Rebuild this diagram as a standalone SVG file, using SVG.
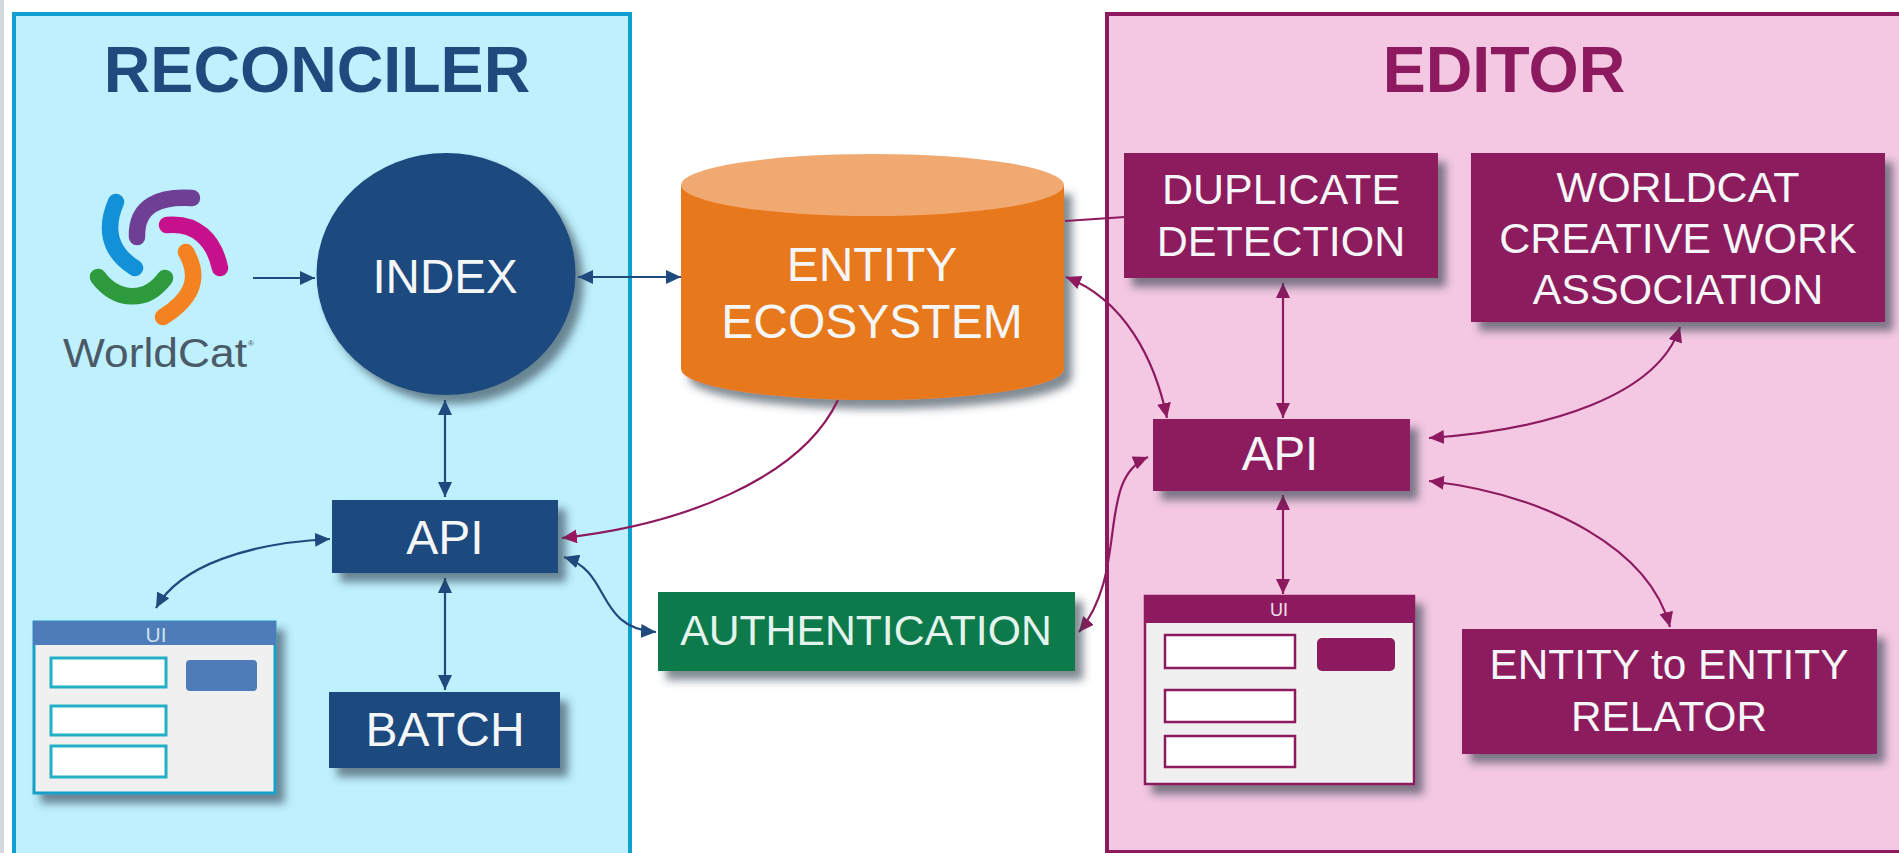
<svg xmlns="http://www.w3.org/2000/svg" width="1899" height="853" viewBox="0 0 1899 853">
<style>
text{font-family:"Liberation Sans",Arial,sans-serif;text-anchor:middle}
.w{fill:#f4f6f8}
.t46{font-size:47.500px}.t43{font-size:43px}.t47{font-size:48px}
.title{font-size:64.500px;font-weight:bold}
.navy{fill:#1f4a7e}.plum{fill:#8d1a5f}
.sh{filter:url(#shadow)}
.c{fill:none;stroke-width:2.200}
.cn{stroke:#1f4a7e;marker-start:url(#an);marker-end:url(#an)}
.cp{stroke:#8d1a5f;marker-start:url(#ap);marker-end:url(#ap)}
.logo{fill:none;stroke-width:16.500;stroke-linecap:round}
</style>
<defs>
<filter id="shadow" x="-15%" y="-20%" width="135%" height="145%"><feDropShadow dx="8" dy="9" stdDeviation="4.500" flood-color="#2b3a4a" flood-opacity=".6"/></filter>
<marker id="an" markerUnits="userSpaceOnUse" markerWidth="16" markerHeight="14" refX="15" refY="7" orient="auto-start-reverse"><path d="M0 0L15 7L0 14z" fill="#1f4a7e"/></marker>
<marker id="ap" markerUnits="userSpaceOnUse" markerWidth="16" markerHeight="14" refX="15" refY="7" orient="auto-start-reverse"><path d="M0 0L15 7L0 14z" fill="#8d1a5f"/></marker>
<marker id="an1" markerUnits="userSpaceOnUse" markerWidth="16" markerHeight="14" refX="15" refY="7" orient="auto"><path d="M0 0L15 7L0 14z" fill="#1f4a7e"/></marker>
<marker id="ap1" markerUnits="userSpaceOnUse" markerWidth="16" markerHeight="14" refX="15" refY="7" orient="auto"><path d="M0 0L15 7L0 14z" fill="#a0145f"/></marker>
</defs>
<rect width="1899" height="853" fill="#fff"/>
<rect x="0" y="0" width="4" height="853" fill="#d5d8dc"/>
<g id="reconciler-panel">
<rect x="14" y="14" width="616" height="842" fill="#bff0fe" stroke="#0f9fd0" stroke-width="4"/>
<text class="title navy" x="317" y="92">RECONCILER</text>
</g>
<g id="editor-panel">
<rect x="1107" y="14" width="800" height="838" fill="#f4c8e3" stroke="#8d1a5f" stroke-width="4"/>
<text class="title plum" x="1504" y="92">EDITOR</text>
</g>
<g id="worldcat">
<path class="logo" stroke="#1291d8" d="M116 202C106 225 106 250 135 268"/>
<path class="logo" stroke="#6f3f96" d="M192 198C160 196 136 205 137 237"/>
<path class="logo" stroke="#c6108c" d="M167 225C196 222 214 240 220 268"/>
<path class="logo" stroke="#f58220" d="M186 252C202 280 190 300 163 317"/>
<path class="logo" stroke="#2e9a3e" d="M98 277C115 300 145 305 165 278"/>
<text x="155" y="367" font-size="40" fill="#4a5a66" textLength="184" lengthAdjust="spacingAndGlyphs">WorldCat</text>
<text x="251" y="346" font-size="8" fill="#4a5a66">®</text>
</g>
<g id="index">
<ellipse class="sh navy" cx="446" cy="274" rx="129.500" ry="121"/>
<text class="w t46" x="445" y="293">INDEX</text>
</g>
<g id="entity-ecosystem">
<path class="sh" fill="#e8781e" d="M681 185V369A191.500 31 0 0 0 1064 369V185z"/>
<ellipse cx="872.500" cy="185" rx="191.500" ry="31" fill="#f0a970"/>
<text class="w t47" x="872" y="281">ENTITY</text>
<text class="w t47" x="872" y="338">ECOSYSTEM</text>
</g>
<g id="connectors">
<path class="c" stroke="#1f4a7e" marker-end="url(#an1)" d="M253 278H315"/>
<path class="c cn" d="M578 277H681"/>
<path class="c cn" d="M445 400V497"/>
<path class="c cn" d="M445 578V690"/>
<path class="c cn" d="M330 539C250 543 180 565 156 608"/>
<path class="c cn" d="M564 557C612 572 595 628 656 632"/>
<path class="c" stroke="#8d1a5f" marker-end="url(#ap1)" d="M838 400C800 480 680 525 562 538"/>
<path class="c cp" d="M1079 632C1130 570 1095 480 1148 457"/>
<path class="c" stroke="#8d1a5f" d="M1065 221L1125 217"/>
<path class="c cp" d="M1066 277C1125 300 1155 360 1167 418"/>
<path class="c cp" d="M1283 283V418"/>
<path class="c cp" d="M1680 327C1658 395 1550 430 1429 438"/>
<path class="c cp" d="M1429 481C1550 495 1650 550 1670 627"/>
<path class="c cp" d="M1283 495V594"/>
</g>
<g id="api-reconciler">
<rect class="sh navy" x="332" y="500" width="226" height="73"/>
<text class="w t47" x="445" y="554">API</text>
</g>
<g id="batch">
<rect class="sh navy" x="329" y="692" width="231" height="76"/>
<text class="w t47" x="445" y="746">BATCH</text>
</g>
<g id="ui-reconciler">
<rect class="sh" x="34" y="622" width="241" height="171" fill="#f0f0f0" stroke="#13a0c8" stroke-width="3"/>
<rect x="33" y="621" width="243" height="24" fill="#4d7cb8"/>
<text x="156" y="642" font-size="21" fill="#cfe0f0">UI</text>
<rect x="51" y="658" width="115" height="29" fill="#fff" stroke="#22b0c4" stroke-width="3"/>
<rect x="51" y="706" width="115" height="29" fill="#fff" stroke="#22b0c4" stroke-width="3"/>
<rect x="51" y="746" width="115" height="31" fill="#fff" stroke="#22b0c4" stroke-width="3"/>
<rect x="186" y="660" width="71" height="31" rx="4" fill="#4d7cb8"/>
</g>
<g id="authentication">
<rect class="sh" x="658" y="592" width="417" height="79" fill="#077a4b"/>
<text x="866" y="645" font-size="42.700" fill="#e4f4ec">AUTHENTICATION</text>
</g>
<g id="duplicate-detection">
<rect class="sh plum" x="1124" y="153" width="314" height="125"/>
<text class="w t43" x="1281" y="204">DUPLICATE</text>
<text class="w t43" x="1281" y="256">DETECTION</text>
</g>
<g id="worldcat-association">
<rect class="sh plum" x="1471" y="153" width="414" height="169"/>
<text class="w t43" x="1678" y="202">WORLDCAT</text>
<text class="w t43" x="1678" y="253">CREATIVE WORK</text>
<text class="w t43" x="1678" y="304">ASSOCIATION</text>
</g>
<g id="api-editor">
<rect class="sh plum" x="1153" y="419" width="257" height="72"/>
<text class="w t46" x="1280" y="470">API</text>
</g>
<g id="ui-editor">
<rect class="sh" x="1145" y="596" width="269" height="188" fill="#f0f0f0" stroke="#8d1a5f" stroke-width="2.500"/>
<rect class="plum" x="1144" y="595" width="271" height="28"/>
<text x="1279" y="616" font-size="18" fill="#f4e0ec">UI</text>
<rect x="1165" y="635" width="130" height="33" fill="#fff" stroke="#8d1a5f" stroke-width="2.500"/>
<rect x="1165" y="690" width="130" height="32" fill="#fff" stroke="#8d1a5f" stroke-width="2.500"/>
<rect x="1165" y="736" width="130" height="31" fill="#fff" stroke="#8d1a5f" stroke-width="2.500"/>
<rect class="plum" x="1317" y="638" width="78" height="33" rx="5"/>
</g>
<g id="entity-relator">
<rect class="sh plum" x="1462" y="629" width="415" height="125"/>
<text class="w" x="1669" y="679" font-size="42.300">ENTITY to ENTITY</text>
<text class="w" x="1669" y="731" font-size="42.300">RELATOR</text>
</g>
</svg>
